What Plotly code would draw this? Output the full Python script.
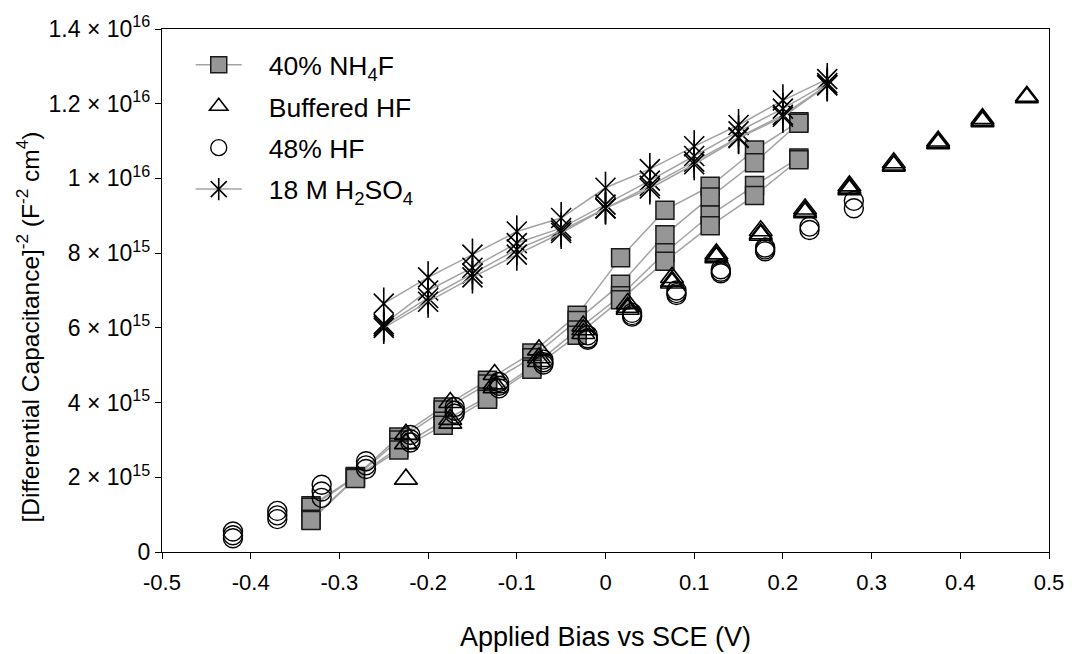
import plotly.graph_objects as go

# Mott-Schottky data: [differential capacitance]^-2 in units of 1e15 F^-2 cm^4
nh4f_bias = [-0.332, -0.282, -0.233, -0.183, -0.133, -0.083, -0.032, 0.017, 0.067, 0.118, 0.168, 0.218]
nh4f_run1 = [1.24, 2.02, 3.08, 3.88, 4.60, 5.33, 6.34, 7.88, 9.15, 9.79, 10.76, 11.52]
nh4f_run2 = [1.20, 2.00, 3.00, 3.80, 4.50, 5.20, 6.20, 7.17, 8.49, 9.50, 10.42, 11.48]
nh4f_run3 = [0.88, 1.98, 2.80, 3.50, 4.15, 4.95, 5.94, 6.86, 8.01, 9.02, 9.81, 10.55]
nh4f_run4 = [0.84, 1.97, 2.73, 3.39, 4.09, 4.89, 5.80, 6.75, 7.78, 8.73, 9.54, 10.50]

bhf_bias = [-0.225, -0.175, -0.125, -0.075, -0.025, 0.025, 0.075, 0.125, 0.175, 0.225, 0.275, 0.325, 0.375, 0.425, 0.475]
bhf_run1 = [3.15, 4.00, 4.75, 5.41, 6.05, 6.65, 7.35, 7.98, 8.60, 9.18, 9.80, 10.42, 11.00, 11.60, 12.20]
bhf_run2 = [2.90, 3.55, 4.50, 5.20, 5.95, 6.55, 7.25, 7.92, 8.52, 9.12, 9.74, 10.36, 10.96, 11.55, 12.16]
bhf_run3 = [1.95, 3.45, 4.40, 5.10, 5.85, 6.50, 7.20, 7.88, 8.48, 9.08, 9.70, 10.33, 10.93, 11.52]

hf_bias = [-0.42, -0.37, -0.32, -0.27, -0.22, -0.17, -0.12, -0.07, -0.02, 0.03, 0.08, 0.13, 0.18, 0.23, 0.28]
hf_run1 = [0.55, 1.10, 1.80, 2.43, 3.13, 3.88, 4.55, 5.15, 5.80, 6.40, 7.00, 7.57, 8.15, 8.71, 9.40]
hf_run2 = [0.45, 0.98, 1.62, 2.32, 3.02, 3.78, 4.45, 5.08, 5.72, 6.34, 6.93, 7.50, 8.10, 8.62, 9.20]
hf_run3 = [0.37, 0.88, 1.45, 2.22, 2.93, 3.70, 4.38, 5.02, 5.68, 6.30, 6.88, 7.46, 8.05]

h2so4_bias = [-0.25, -0.20, -0.15, -0.10, -0.05, 0.00, 0.05, 0.10, 0.15, 0.20, 0.25]
h2so4_run1 = [6.65, 7.35, 7.96, 8.58, 8.94, 9.75, 10.25, 10.86, 11.43, 12.09, 12.66]
h2so4_run2 = [6.10, 7.00, 7.61, 8.27, 8.67, 9.30, 9.94, 10.60, 11.26, 11.87, 12.55]
h2so4_run3 = [6.05, 6.80, 7.45, 8.10, 8.60, 9.20, 9.80, 10.45, 11.10, 11.70, 12.50]
h2so4_run4 = [6.00, 6.70, 7.35, 7.96, 8.54, 9.20, 9.73, 10.38, 11.08, 11.65, 12.49]

x_ticks = [-0.5, -0.4, -0.3, -0.2, -0.1, 0.0, 0.1, 0.2, 0.3, 0.4, 0.5]
x_tick_labels = ["-0.5", "-0.4", "-0.3", "-0.2", "-0.1", "0", "0.1", "0.2", "0.3", "0.4", "0.5"]
y_ticks = [0, 2e15, 4e15, 6e15, 8e15, 1e16, 1.2e16, 1.4e16]
y_tick_labels = ["0", "2 × 10<sup>15</sup>", "4 × 10<sup>15</sup>", "6 × 10<sup>15</sup>",
                 "8 × 10<sup>15</sup>", "1 × 10<sup>16</sup>", "1.2 × 10<sup>16</sup>",
                 "1.4 × 10<sup>16</sup>"]

# legend labels (leading no-break spaces push the text away from the sample)
PAD = "\u00a0\u00a0\u00a0"
names = {
    "nh4f": PAD + "40% NH<sub>4</sub>F",
    "bhf": PAD + "Buffered HF",
    "hf": PAD + "48% HF",
    "h2so4": PAD + "18 M H<sub>2</sub>SO<sub>4</sub>",
}

SCALE = 1e15
LINE_GRAY = "#a3a3a3"
FONT = "Liberation Sans, Arial, sans-serif"


def scaled(vals):
    return [v * SCALE for v in vals]


fig = go.Figure()

# 40% NH4F: filled gray squares joined by gray lines
for i, run in enumerate([nh4f_run1, nh4f_run2, nh4f_run3, nh4f_run4]):
    fig.add_trace(go.Scatter(
        x=nh4f_bias[:len(run)], y=scaled(run), mode="lines+markers",
        name=names["nh4f"], legendgroup="nh4f", showlegend=(i == 0),
        line=dict(color=LINE_GRAY, width=1.5),
        marker=dict(symbol="square", size=18, color="#969696",
                    line=dict(color="#1a1a1a", width=1.5)),
    ))

# 18 M H2SO4: six-point asterisks (an X plus a vertical stroke) joined by gray lines
for run in [h2so4_run1, h2so4_run2, h2so4_run3, h2so4_run4]:
    fig.add_trace(go.Scatter(
        x=h2so4_bias[:len(run)], y=scaled(run), mode="lines+markers",
        name=names["h2so4"], legendgroup="h2so4", showlegend=False,
        line=dict(color=LINE_GRAY, width=1.5),
        marker=dict(symbol="x-thin-open", size=20, color="black",
                    line=dict(color="black", width=1.6)),
    ))
for run in [h2so4_run1, h2so4_run2, h2so4_run3, h2so4_run4]:
    fig.add_trace(go.Scatter(
        x=h2so4_bias[:len(run)], y=scaled(run), mode="markers",
        name=names["h2so4"], legendgroup="h2so4", showlegend=False,
        marker=dict(symbol="line-ns-open", size=23, color="black",
                    line=dict(color="black", width=1.6)),
    ))

# Buffered HF: open triangles
for i, run in enumerate([bhf_run1, bhf_run2, bhf_run3]):
    fig.add_trace(go.Scatter(
        x=bhf_bias[:len(run)], y=scaled(run), mode="markers",
        name=names["bhf"], legendgroup="bhf", showlegend=(i == 0),
        marker=dict(symbol="triangle-up-open", size=20, color="black",
                    line=dict(color="black", width=1.6)),
    ))

# 48% HF: open circles
for i, run in enumerate([hf_run1, hf_run2, hf_run3]):
    fig.add_trace(go.Scatter(
        x=hf_bias[:len(run)], y=scaled(run), mode="markers",
        name=names["hf"], legendgroup="hf", showlegend=(i == 0),
        marker=dict(symbol="circle-open", size=19, color="black",
                    line=dict(color="black", width=1.4)),
    ))

# Legend entry for H2SO4 (X with line); placed last in the legend
fig.add_trace(go.Scatter(
    x=[None], y=[None], mode="lines+markers", name=names["h2so4"],
    legendgroup="h2so4",
    line=dict(color=LINE_GRAY, width=1.5),
    marker=dict(symbol="x-thin-open", size=20, color="black",
                line=dict(color="black", width=1.6)),
))

# Second, transparent legend stacked on the first that adds the vertical
# stroke of the asterisk symbol on the H2SO4 row
for key in ["nh4f", "bhf", "hf"]:
    fig.add_trace(go.Scatter(
        x=[None], y=[None], mode="markers", name=names[key], legend="legend2",
        legendgroup="l2_" + key,
        marker=dict(symbol="circle", size=1, color="rgba(0,0,0,0)",
                    line=dict(width=0)),
    ))
fig.add_trace(go.Scatter(
    x=[None], y=[None], mode="markers", name=names["h2so4"], legend="legend2",
    legendgroup="l2_h2so4",
    marker=dict(symbol="line-ns-open", size=23, color="black",
                line=dict(color="black", width=1.6)),
))

legend_common = dict(
    x=0.0324, y=0.977, xanchor="left", yanchor="top",
    bgcolor="rgba(0,0,0,0)", borderwidth=0,
    itemwidth=46, traceorder="grouped", tracegroupgap=4,
)

fig.update_layout(
    width=1076, height=654,
    margin=dict(l=162, r=18, t=21, b=102),
    plot_bgcolor="white", paper_bgcolor="white",
    font=dict(family=FONT, color="black", size=23),
    legend=dict(**legend_common, font=dict(family=FONT, size=26.5, color="black")),
    legend2=dict(**legend_common, font=dict(family=FONT, size=26.5, color="rgba(0,0,0,0)")),
    xaxis=dict(
        range=[-0.5, 0.5], tickvals=x_ticks, ticktext=x_tick_labels,
        ticks="outside", ticklen=6, tickwidth=1.3, tickcolor="black",
        showline=True, linecolor="black", linewidth=1.3, mirror=True,
        showgrid=False, zeroline=False, ticklabelstandoff=4,
        tickfont=dict(family=FONT, size=22),
    ),
    yaxis=dict(
        range=[0, 1.4e16], tickvals=y_ticks, ticktext=y_tick_labels,
        ticks="outside", ticklen=6, tickwidth=1.3, tickcolor="black",
        showline=True, linecolor="black", linewidth=1.3, mirror=True,
        showgrid=False, zeroline=False,
        tickfont=dict(family=FONT, size=23),
    ),
    annotations=[
        dict(
            text="[Differential Capacitance]<sup>-2</sup> (F<sup>-2</sup> cm<sup>4</sup>)",
            xref="paper", yref="paper", x=-0.1518, y=0.43,
            xanchor="center", yanchor="middle", textangle=-90, showarrow=False,
            font=dict(family=FONT, size=24.5, color="black"),
        ),
        dict(
            text="Applied Bias vs SCE (V)",
            xref="paper", yref="paper", x=0.5, y=-0.162,
            xanchor="center", yanchor="middle", showarrow=False,
            font=dict(family=FONT, size=27, color="black"),
        ),
    ],
)

fig.write_html("out.html")
